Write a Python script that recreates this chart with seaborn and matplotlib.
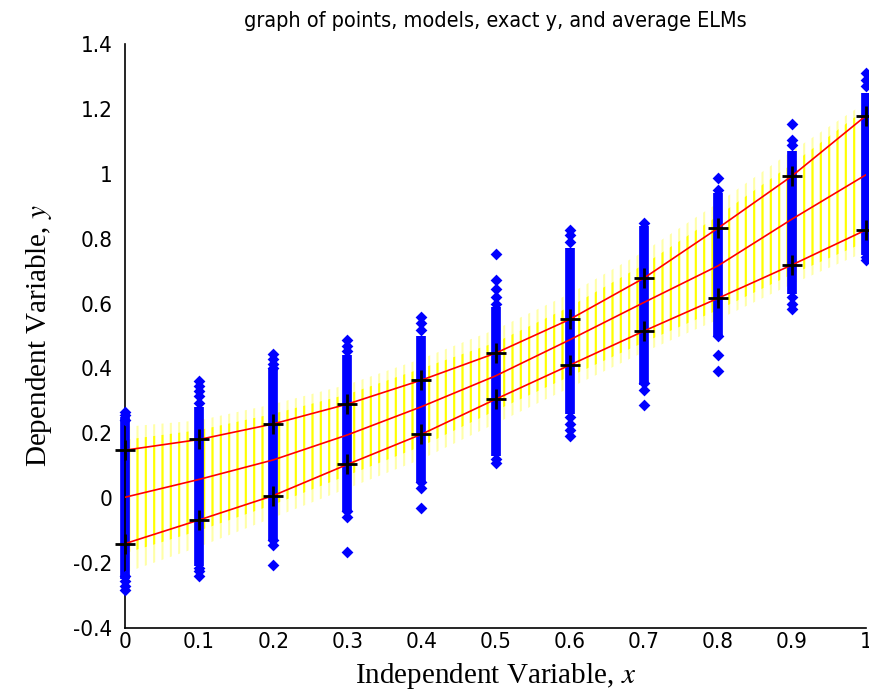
import numpy as np
import pandas as pd
import matplotlib
matplotlib.use("Agg")
import matplotlib.pyplot as plt
import seaborn as sns

sns.set_style("white")
plt.rcParams["font.family"] = ["Liberation Sans Narrow", "DejaVu Sans"]
plt.rcParams["font.stretch"] = "condensed"
plt.rcParams["mathtext.fontset"] = "stix"
plt.rcParams["hatch.linewidth"] = 1.5
plt.rcParams["hatch.color"] = "#ffff00"
plt.rcParams["text.color"] = "black"
plt.rcParams["axes.labelcolor"] = "black"

# ── data ─────────────────────────────────────────────────────────────────────
x_knots = [0.0, 0.1, 0.2, 0.3, 0.4, 0.5, 0.6, 0.7, 0.8, 0.9, 1.0]

# average ELM (middle) and the +/- band (with black markers)
y_mid   = [0.003, 0.058, 0.118, 0.195, 0.282, 0.377, 0.488, 0.603, 0.716, 0.860, 0.997]
y_upper = [0.148, 0.181, 0.229, 0.290, 0.364, 0.447, 0.551, 0.678, 0.832, 0.993, 1.179]
y_lower = [-0.140, -0.067, 0.008, 0.104, 0.197, 0.305, 0.410, 0.515, 0.616, 0.719, 0.827]

# spread of the individual models (yellow)
model_hi = [0.18, 0.21, 0.26, 0.32, 0.40, 0.48, 0.59, 0.72, 0.87, 1.03, 1.20]
model_lo = [-0.17, -0.10, -0.02, 0.07, 0.16, 0.27, 0.375, 0.48, 0.58, 0.69, 0.79]
model_hi_sparse = [0.22, 0.24, 0.29, 0.35, 0.43, 0.52, 0.63, 0.76, 0.91, 1.07, 1.22]
model_lo_sparse = [-0.23, -0.15, -0.06, 0.03, 0.12, 0.23, 0.34, 0.45, 0.55, 0.66, 0.76]

# sample points: dense core of each column, plus the loose points at the ends
core_lo = [-0.25, -0.21, -0.13, -0.04, 0.05, 0.13, 0.26, 0.35, 0.50, 0.63, 0.75]
core_hi = [0.25, 0.28, 0.40, 0.44, 0.50, 0.59, 0.77, 0.84, 0.94, 1.07, 1.25]
pts_x00 = [0.267, 0.255, 0.24, -0.24, -0.255, -0.27, -0.283]
pts_x01 = [0.36, 0.345, 0.33, 0.315, 0.295, -0.215, -0.225, -0.24]
pts_x02 = [0.445, 0.43, 0.415, 0.40, -0.13, -0.145, -0.206]
pts_x03 = [0.488, 0.47, 0.455, -0.04, -0.057, -0.165]
pts_x04 = [0.56, 0.54, 0.52, 0.05, 0.03, -0.03]
pts_x05 = [0.753, 0.673, 0.645, 0.62, 0.60, 0.12, 0.108]
pts_x06 = [0.827, 0.81, 0.79, 0.25, 0.23, 0.21, 0.192]
pts_x07 = [0.848, 0.355, 0.334, 0.287]
pts_x08 = [0.988, 0.95, 0.50, 0.441, 0.393]
pts_x09 = [1.153, 1.104, 1.09, 0.62, 0.60, 0.583]
pts_x10 = [1.312, 1.29, 1.27, 0.745, 0.734]
pts_all = [pts_x00, pts_x01, pts_x02, pts_x03, pts_x04, pts_x05,
           pts_x06, pts_x07, pts_x08, pts_x09, pts_x10]

TITLE = "graph of points, models, exact y, and average ELMs"
XLABEL = "Independent Variable, $x$"
YLABEL = "Dependent Variable, $y$"

points = pd.DataFrame(
    [(x, y) for x, col in zip(x_knots, pts_all) for y in col],
    columns=["x", "y"],
)
lines = pd.DataFrame({"x": x_knots, "mid": y_mid,
                      "upper": y_upper, "lower": y_lower})

# ── figure ───────────────────────────────────────────────────────────────────
fig = plt.figure(figsize=(8.7, 6.96), dpi=100)
ax = fig.add_axes([0.1437, 0.0977, 0.8517, 0.8391])

# models: vertical yellow dotted strips
ax.fill_between(x_knots, model_lo_sparse, model_hi_sparse, hatch="||",
                facecolor="none", edgecolor="#ffff00", linewidth=0,
                alpha=0.35, zorder=1)
ax.fill_between(x_knots, model_lo, model_hi, hatch="||",
                facecolor="none", edgecolor="#ffff00", linewidth=0,
                zorder=1)

# points (not clipped, the columns at x=0 and x=1 sit on the frame)
ax.vlines(x_knots, core_lo, core_hi, color="#0000ff", linewidth=7,
          zorder=2, clip_on=False)
sns.scatterplot(data=points, x="x", y="y", ax=ax, marker="D", s=36,
                color="#0000ff", edgecolor="#0000ff", linewidth=0,
                zorder=3, clip_on=False)

# exact y / average lines
for col in ["mid", "upper", "lower"]:
    sns.lineplot(data=lines, x="x", y=col, ax=ax, color="#ff0000",
                 linewidth=1.2, zorder=4)
for col in ["upper", "lower"]:
    ax.plot(lines["x"], lines[col], "+", color="black", markersize=14,
            markeredgewidth=2.0, zorder=5, clip_on=False)

ax.set_xlim(0, 1)
ax.set_ylim(-0.4, 1.4)
ax.set_xticks(x_knots)
ax.set_xticklabels(["0", "0.1", "0.2", "0.3", "0.4", "0.5",
                    "0.6", "0.7", "0.8", "0.9", "1"])
ax.set_yticks([-0.4, -0.2, 0, 0.2, 0.4, 0.6, 0.8, 1.0, 1.2, 1.4])
ax.set_yticklabels(["-0.4", "-0.2", "0", "0.2", "0.4", "0.6",
                    "0.8", "1", "1.2", "1.4"])
ax.tick_params(direction="in", length=5, width=1.2, labelsize=16,
               colors="black")
ax.tick_params(axis="x", pad=3)
ax.tick_params(axis="y", pad=9)

for side in ["top", "right"]:
    ax.spines[side].set_visible(False)
for side in ["left", "bottom"]:
    ax.spines[side].set_color("black")
    ax.spines[side].set_linewidth(1.2)

ax.set_title(TITLE, fontsize=15.5, pad=12, color="black")
ax.set_xlabel(XLABEL, fontsize=21, family="Liberation Serif",
              stretch="normal", labelpad=6)
ax.set_ylabel(YLABEL, fontsize=21, family="Liberation Serif",
              stretch="normal", labelpad=14)

fig.savefig("out.png", dpi=100)
